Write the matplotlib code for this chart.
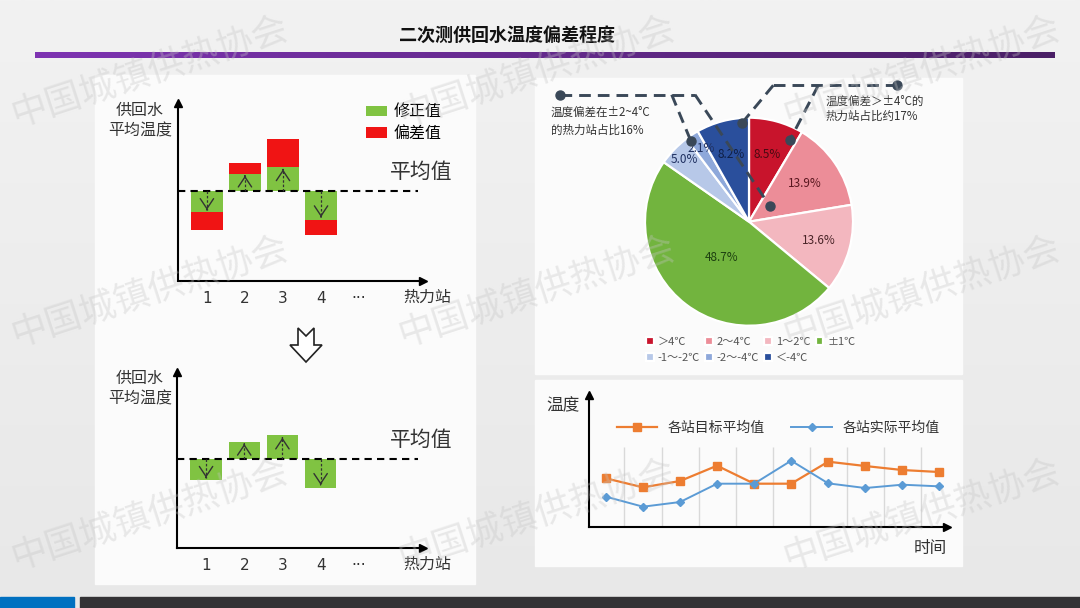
import numpy as np
import matplotlib
matplotlib.use('Agg')
import matplotlib.pyplot as plt
from matplotlib.patches import Rectangle, Polygon

plt.rcParams['font.family'] = ['Noto Sans CJK SC', 'DejaVu Sans']

W, H = 1080, 608

# ---- 数据 ----
title = '二次测供回水温度偏差程度'
stations = ['1', '2', '3', '4', '···']
correction = [-2.1, 1.7, 2.4, -2.9]   # 修正值 (相对平均值)
deviation = [-1.8, 1.1, 2.8, -1.5]    # 偏差值 (叠在修正值外侧)

pie_labels = ['＞4℃', '2～4℃', '1～2℃', '±1℃', '-1～-2℃', '-2～-4℃', '＜-4℃']
pie_values = [8.5, 13.9, 13.6, 48.7, 5.0, 2.1, 8.2]
pie_colors = ['#c8142c', '#ec8d98', '#f3b7bf', '#72b43e', '#b7c8e8', '#8ea8da', '#2a4f9c']
pie_text_colors = ['#4a0a12', '#5a1820', '#4a2428', '#1d4010', '#1f3060', '#1f3060', '#0f1f45']

time_idx = np.arange(10)
target_avg = [14.5, 11.8, 13.7, 18.3, 12.9, 12.9, 19.5, 18.2, 17.0, 16.4]
actual_avg = [9.0, 6.0, 7.4, 12.9, 12.9, 19.8, 13.0, 11.6, 12.6, 12.1]

GREEN = '#80c342'
RED = '#f01414'


def px_axes(x0, y0, x1, y1, z=1):
    # 用像素坐标(左上角为原点)创建坐标轴
    ax = fig.add_axes([x0 / W, 1 - y1 / H, (x1 - x0) / W, (y1 - y0) / H], zorder=z)
    ax.set_facecolor('none')
    return ax


def axis_arrows(ax):
    for s in ['top', 'right']:
        ax.spines[s].set_visible(False)
    for s in ['left', 'bottom']:
        ax.spines[s].set_linewidth(1.5)
    ax.plot(1, 0, '>k', ms=6, transform=ax.transAxes, clip_on=False)
    ax.plot(0, 1, '^k', ms=6, transform=ax.transAxes, clip_on=False)
    ax.set_yticks([])


def draw_scheme(ax, show_dev):
    x = np.arange(1, 5)
    ax.bar(x, correction, width=0.82, color=GREEN, zorder=2, label='修正值')
    if show_dev:
        ax.bar(x, deviation, bottom=correction, width=0.82, color=RED, zorder=2, label='偏差值')
    ax.axhline(0, xmax=0.98, color='k', ls=(0, (3.5, 2.5)), lw=1.5, zorder=3)
    for xi, c in zip(x, correction):
        end = c * 0.9
        ax.plot([xi, xi], [0, end], color='#333333', lw=0.9, ls=(0, (2, 1.5)), zorder=4)
        ax.annotate('', xy=(xi, end), xytext=(xi, end - np.sign(c) * 0.02),
                    arrowprops=dict(arrowstyle='->,head_length=0.6,head_width=0.4',
                                    color='#333333', lw=1, mutation_scale=12), zorder=4)
    ax.set_xlim(0.24, 6.68)
    ax.set_ylim(-9, 8.8)
    ax.set_xticks(range(1, len(stations) + 1))
    ax.set_xticklabels(stations, fontsize=11, color='#333333', family='DejaVu Sans')
    ax.tick_params(axis='x', length=0, pad=7)
    axis_arrows(ax)


fig = plt.figure(figsize=(W / 100, H / 100), dpi=100)

# ---- 背景与装饰 ----
bg = fig.add_axes([0, 0, 1, 1], zorder=0)
bg.set_xlim(0, W)
bg.set_ylim(H, 0)
bg.axis('off')
grad = np.linspace(0, 1, 256).reshape(-1, 1)
bg.imshow(grad, extent=(0, W, H, 0), cmap=matplotlib.colors.LinearSegmentedColormap.from_list(
    'g', ['#f2f2f2', '#e8e8e8']), aspect='auto', zorder=0)
for (x0, y0, x1, y1) in [(95, 75, 475, 584), (535, 78, 962, 374), (535, 380, 962, 566)]:
    bg.add_patch(Rectangle((x0, y0), x1 - x0, y1 - y0, color='#fbfbfb', zorder=1))
bar_grad = np.linspace(0, 1, 256).reshape(1, -1)
bg.imshow(bar_grad, extent=(35, 1055, 58, 52), cmap=matplotlib.colors.LinearSegmentedColormap.from_list(
    'p', ['#7e34b2', '#4a1f66']), aspect='auto', zorder=2)
bg.text(507, 35, title, ha='center', va='center', fontsize=13, fontweight='bold', color='#111111')
bg.add_patch(Rectangle((0, 597), 74, 11, color='#0070c0', zorder=2))
bg.add_patch(Rectangle((80, 597), 1000, 11, color='#333235', zorder=2))

# ---- 左上: 修正前 ----
ax1 = px_axes(178, 103, 423, 281)
draw_scheme(ax1, True)
fig.legend(*ax1.get_legend_handles_labels(), loc='upper left', bbox_to_anchor=(352 / W, 1 - 89 / H),
           frameon=False, fontsize=11.5, handlelength=1.3, handleheight=0.6,
           labelspacing=0.3, handletextpad=0.4)

# ---- 左下: 修正后 ----
ax2 = px_axes(177, 372, 423, 548)
draw_scheme(ax2, False)

for ycen in (121, 389):
    bg.text(140, ycen, '供回水\n平均温度', ha='center', va='center', fontsize=11.5,
            color='#333333', linespacing=1.25, zorder=3)
for ytxt, yst in ((172, 297), (440, 564)):
    bg.text(421, ytxt, '平均值', ha='center', va='center', fontsize=15, color='#333333', zorder=3)
    bg.text(427, yst, '热力站', ha='center', va='center', fontsize=11.5, color='#333333', zorder=3)

# 空心向下箭头
bg.add_patch(Polygon([(298, 328), (306, 336), (314, 328), (314, 345), (322, 345), (306, 362),
                      (290, 345), (298, 345)], closed=True, fc='white', ec='#222222', lw=1.2, zorder=3))

# ---- 右上: 饼图 ----
cx, cy, R = 749, 221.7, 104
ax3 = px_axes(cx - R * 1.1, cy - R * 1.1, cx + R * 1.1, cy + R * 1.1, z=2)
wedges, _ = ax3.pie(pie_values, colors=pie_colors, startangle=90, counterclock=False,
                    wedgeprops=dict(edgecolor='white', linewidth=1.6))
ax3.set_xlim(-1.1, 1.1)
ax3.set_ylim(-1.1, 1.1)
ax3.set_aspect('equal')
lab_r = [0.67, 0.65, 0.7, 0.43, 0.86, 0.84, 0.67]
for w, v, r, tc in zip(wedges, pie_values, lab_r, pie_text_colors):
    ang = np.deg2rad((w.theta1 + w.theta2) / 2)
    ax3.text(r * np.cos(ang), r * np.sin(ang), f'{v:.1f}%', ha='center', va='center',
             fontsize=8.5, color=tc)


def to_pie(px, py):
    return (px - cx) / R, (cy - py) / R


def on_wedge(i, frac, r):
    w = wedges[i]
    a = np.deg2rad(w.theta1 + frac * (w.theta2 - w.theta1))
    return r * np.cos(a), r * np.sin(a)


dash = dict(color='#3a4858', lw=2.1, ls=(0, (4, 2.4)), clip_on=False, zorder=5)
dotkw = dict(color='#3a4858', marker='o', ms=6.5, ls='none', clip_on=False, zorder=6)
# 左侧标注: ±2~4℃
p0, c1, c2 = to_pie(560, 94.7), to_pie(671.7, 94.7), to_pie(695, 94.7)
d1, d2 = on_wedge(5, 0.82, 0.96), on_wedge(1, 0.53, 0.25)
ax3.plot([p0[0], c2[0]], [p0[1], c2[1]], **dash)
ax3.plot([c1[0], d1[0]], [c1[1], d1[1]], **dash)
ax3.plot([c2[0], d2[0]], [c2[1], d2[1]], **dash)
ax3.plot([p0[0], d1[0], d2[0]], [p0[1], d1[1], d2[1]], **dotkw)
# 右侧标注: >±4℃
q0, e1, e2 = to_pie(896.7, 85.3), to_pie(773.3, 85.3), to_pie(818.3, 85.3)
f1, f2 = on_wedge(6, 0.14, 0.95), on_wedge(0, 0.13, 0.88)
ax3.plot([q0[0], e1[0]], [q0[1], e1[1]], **dash)
ax3.plot([e1[0], f1[0]], [e1[1], f1[1]], **dash)
ax3.plot([e2[0], f2[0]], [e2[1], f2[1]], **dash)
ax3.plot([q0[0], f1[0], f2[0]], [q0[1], f1[1], f2[1]], **dotkw)

bg.text(551, 121.5, '温度偏差在±2~4°C\n的热力站占比16%', ha='left', va='center', fontsize=8.3,
        color='#333333', linespacing=1.45, zorder=3)
bg.text(826, 109, '温度偏差＞±4°C的\n热力站占比约17%', ha='left', va='center', fontsize=8.3,
        color='#333333', linespacing=1.25, zorder=3)

order = [0, 4, 1, 5, 2, 6, 3]
fig.legend([wedges[i] for i in order], [pie_labels[i] for i in order], ncol=4,
           loc='upper left', bbox_to_anchor=(636 / W, 1 - 327 / H), frameon=False,
           fontsize=8, handlelength=0.7, handleheight=0.7, handletextpad=0.35,
           columnspacing=0.45, labelspacing=0.55, labelcolor='#555555')

# ---- 右下: 折线图 ----
ax4 = px_axes(589.3, 395, 946.7, 526.7)
ax4.vlines(np.arange(0.5, len(time_idx) - 1, 1), 0, 24, color='#d9d9d9', lw=1, zorder=1)
ax4.plot(time_idx, target_avg, color='#ed7d31', lw=1.6, marker='s', ms=6, label='各站目标平均值', zorder=3)
ax4.plot(time_idx, actual_avg, color='#5b9bd5', lw=1.4, marker='D', ms=4.5, label='各站实际平均值', zorder=3)
ax4.set_xlim(-0.45, 9.2)
ax4.set_ylim(0, 39.5)
ax4.set_xticks([])
axis_arrows(ax4)
ax4.legend(loc='upper left', bbox_to_anchor=(604 / W, 1 - 408 / H), bbox_transform=fig.transFigure,
           ncol=2, frameon=False, fontsize=10, handlelength=2.9, handletextpad=0.8,
           columnspacing=1.9, labelcolor='#333333')
bg.text(563, 406, '温度', ha='center', va='center', fontsize=12, color='#333333', zorder=3)
bg.text(930, 549, '时间', ha='center', va='center', fontsize=12, color='#333333', zorder=3)

# ---- 水印 ----
top = fig.add_axes([0, 0, 1, 1], zorder=10)
top.set_xlim(0, W)
top.set_ylim(H, 0)
top.axis('off')
top.patch.set_alpha(0)
for yc in (72, 292, 515):
    for xc in (150, 537, 922):
        top.text(xc, yc, '中国城镇供热协会', ha='center', va='center', rotation=18,
                 fontsize=26, color='#c4c4c4', alpha=0.35, rotation_mode='anchor')

fig.savefig('out.png', dpi=100)
